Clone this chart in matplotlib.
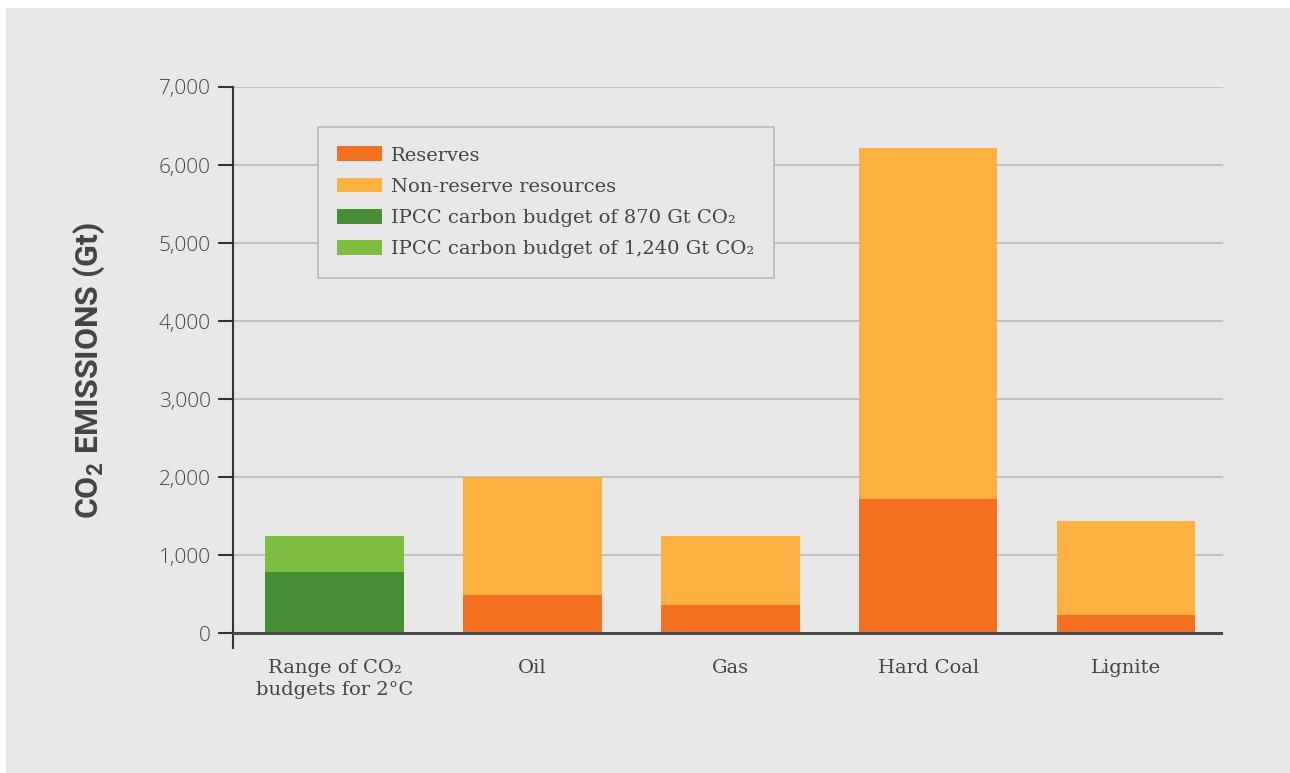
import matplotlib
matplotlib.use("Agg")
import matplotlib.pyplot as plt
from matplotlib.patches import Rectangle, Patch

# data (Gt CO2)
categories = ["Range of CO\u2082\nbudgets for 2\u00b0C", "Oil", "Gas", "Hard Coal", "Lignite"]
budget_low = [790, 0, 0, 0, 0]
budget_high = [1240, 0, 0, 0, 0]
reserves = [0, 490, 360, 1720, 230]
totals = [0, 2000, 1240, 6220, 1440]
yticks = [0, 1000, 2000, 3000, 4000, 5000, 6000, 7000]

BG = "#e8e8e8"
TXT = "#444444"
C_RES = "#f37021"
C_NONRES = "#fbb040"
C_DARK = "#458e35"
C_LIGHT = "#7dbe42"

fig = plt.figure(figsize=(12.9, 7.73), dpi=100, facecolor="white")
fig.patches.append(Rectangle((6 / 1290, 0), 1, 1 - 8 / 773, transform=fig.transFigure,
                             facecolor=BG, edgecolor="none", zorder=-10))

ax = fig.add_axes([233 / 1290, 1 - 648 / 773, 990 / 1290, 561 / 773])
ax.set_facecolor(BG)

x = list(range(len(categories)))
w = 0.70
non_reserve = [t - r for t, r in zip(totals, reserves)]
upper_budget = [h - l for h, l in zip(budget_high, budget_low)]

# stacked bars: budgets in greens, fossil fuels in oranges
ax.bar(x, budget_low, width=w, color=C_DARK, zorder=3)
ax.bar(x, upper_budget, width=w, bottom=budget_low, color=C_LIGHT, zorder=3)
ax.bar(x, reserves, width=w, color=C_RES, zorder=3)
ax.bar(x, non_reserve, width=w, bottom=reserves, color=C_NONRES, zorder=3)

ax.set_xlim(-0.513, 4.49)
ax.set_ylim(-190, 7000)
ax.set_yticks(yticks)
ax.set_yticklabels([f"{v:,}" for v in yticks], fontfamily="Open Sans",
                   fontweight="light", fontsize=15, color=TXT)
for v in yticks[1:]:
    ax.axhline(v, color="#bdbdbd", lw=1.3, zorder=1)
ax.axhline(0, color="#4a4a4a", lw=2.2, zorder=4)

ax.set_xticks(x)
ax.set_xticklabels(categories, fontfamily="DejaVu Serif", fontsize=14, color=TXT,
                   linespacing=1.3)
ax.tick_params(axis="x", length=0, pad=8)
ax.tick_params(axis="y", length=11, width=1.5, color="#333333", pad=5)

for side in ["top", "right", "bottom"]:
    ax.spines[side].set_visible(False)
ax.spines["left"].set_color("#333333")
ax.spines["left"].set_linewidth(1.5)

handles = [Patch(facecolor=C_RES), Patch(facecolor=C_NONRES),
           Patch(facecolor=C_DARK), Patch(facecolor=C_LIGHT)]
labels = ["Reserves", "Non-reserve resources",
          "IPCC carbon budget of 870 Gt CO\u2082",
          "IPCC carbon budget of 1,240 Gt CO\u2082"]
leg = ax.legend(handles, labels, loc="upper left", bbox_to_anchor=(0.0859, 0.9287),
                frameon=True, fancybox=False, facecolor=BG, edgecolor="#bbbbbb",
                prop={"family": "DejaVu Serif", "size": 14}, labelcolor=TXT,
                handlelength=2.3, handleheight=0.78, handletextpad=0.45,
                labelspacing=0.68, borderpad=1.0, borderaxespad=0)
leg.get_frame().set_linewidth(1.2)
leg.get_frame().set_alpha(1)

fig.text(89 / 1290, 1 - 371 / 773, "CO$_\\mathregular{2}$ EMISSIONS (Gt)", rotation=90,
         ha="center", va="center", fontfamily="Roboto",
         fontweight="bold", fontsize=23, color=TXT)

fig.savefig("out.png", dpi=100, facecolor="white")
